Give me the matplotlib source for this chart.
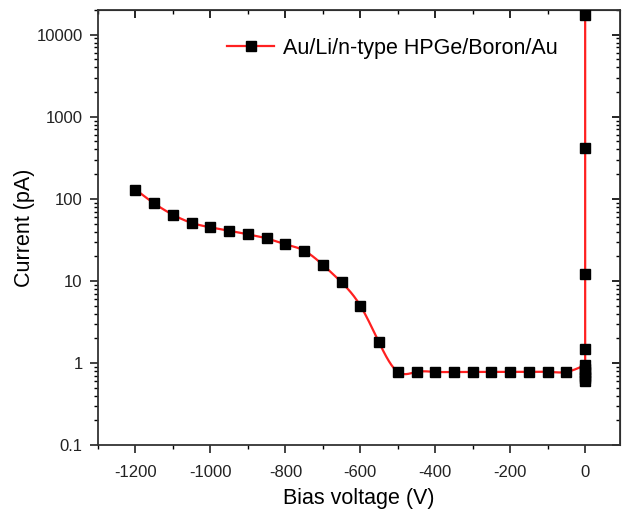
import numpy as np
import matplotlib
matplotlib.use('Agg')
import matplotlib.pyplot as plt
from matplotlib.ticker import FixedLocator, LogLocator, MultipleLocator, NullFormatter

plt.rcParams['font.family'] = ['Liberation Sans', 'DejaVu Sans']
plt.rcParams['axes.unicode_minus'] = False

# reverse-bias sweep (V) and measured current (pA)
bias_rev = [-1200, -1150, -1100, -1050, -1000, -950, -900, -850, -800, -750,
            -700, -650, -600, -550, -500, -450, -400, -350, -300, -250,
            -200, -150, -100, -50]
curr_rev = [130, 88, 64, 51, 45, 41, 37, 33, 28, 23.4,
            15.7, 9.6, 5.0, 1.78, 0.78, 0.78, 0.78, 0.78, 0.78, 0.78,
            0.78, 0.78, 0.78, 0.78]
# points recorded around 0 V
bias_zero = [0, 0, 0, 0, 0, 0, 0, 0, 0, 0]
curr_zero = [0.6, 0.65, 0.7, 0.78, 0.85, 0.95, 1.48, 12.3, 420, 17500]

yticks = [0.1, 1, 10, 100, 1000, 10000]
ytick_labels = ['0.1', '1', '10', '100', '1000', '10000']
xticks = [-1200, -1000, -800, -600, -400, -200, 0]


def natural_spline(x, y, xs):
    x = np.asarray(x, float); y = np.asarray(y, float)
    n = len(x); h = np.diff(x)
    A = np.zeros((n, n)); b = np.zeros(n)
    A[0, 0] = A[-1, -1] = 1
    for i in range(1, n - 1):
        A[i, i - 1] = h[i - 1]
        A[i, i] = 2 * (h[i - 1] + h[i])
        A[i, i + 1] = h[i]
        b[i] = 3 * ((y[i + 1] - y[i]) / h[i] - (y[i] - y[i - 1]) / h[i - 1])
    c = np.linalg.solve(A, b)
    idx = np.clip(np.searchsorted(x, xs) - 1, 0, n - 2)
    dx = xs - x[idx]
    bb = (y[idx + 1] - y[idx]) / h[idx] - h[idx] * (2 * c[idx] + c[idx + 1]) / 3
    d = (c[idx + 1] - c[idx]) / (3 * h[idx])
    return y[idx] + bb * dx + c[idx] * dx ** 2 + d * dx ** 3


# smooth connecting line in log space
sx = bias_rev + [0]
sy = np.log10(curr_rev + [curr_zero[5]])
xs = np.linspace(sx[0], sx[-1], 1500)
ys = 10 ** natural_spline(sx, sy, xs)
line_x = np.concatenate([xs, bias_zero])
line_y = np.concatenate([ys, curr_zero])

fig = plt.figure(figsize=(6.22, 5.17), dpi=100)
ax = fig.add_axes([0.1576, 0.139, 0.8392, 0.8417])

RED = '#ff2020'
ax.plot(line_x, line_y, color=RED, lw=1.6, zorder=2)
ax.plot(bias_rev + bias_zero, curr_rev + curr_zero, 's', color='black',
        markersize=7.5, zorder=3, linestyle='none')
# legend proxy
ax.plot([], [], color=RED, lw=1.6, marker='s', markersize=7.5,
        markerfacecolor='black', markeredgecolor='black',
        label='Au/Li/n-type HPGe/Boron/Au')

ax.set_yscale('log')
ax.set_xlim(-1300, 93)
ax.set_ylim(0.1, 20000)

ax.xaxis.set_major_locator(FixedLocator(xticks))
ax.xaxis.set_minor_locator(MultipleLocator(100))
ax.yaxis.set_major_locator(FixedLocator(yticks))
ax.set_yticklabels(ytick_labels)
ax.yaxis.set_minor_locator(LogLocator(base=10, subs=np.arange(2, 10), numticks=20))
ax.yaxis.set_minor_formatter(NullFormatter())

ax.tick_params(axis='both', which='major', direction='out', length=6, width=1.2,
               labelsize=12, colors='#222222')
ax.tick_params(axis='x', which='major', pad=8)
ax.tick_params(axis='y', which='major', pad=5)
ax.tick_params(axis='both', which='minor', direction='out', length=3, width=1.0)
# mirrored ticks on top / right pointing inward
secx = ax.secondary_xaxis('top')
secx.xaxis.set_major_locator(FixedLocator(xticks))
secx.xaxis.set_minor_locator(MultipleLocator(100))
secx.tick_params(which='major', direction='in', length=6, width=1.2, labeltop=False)
secx.tick_params(which='minor', direction='in', length=3, width=1.0)
secy = ax.secondary_yaxis('right')
secy.set_yscale('log')
secy.yaxis.set_major_locator(FixedLocator(yticks))
secy.yaxis.set_minor_locator(LogLocator(base=10, subs=np.arange(2, 10), numticks=20))
secy.yaxis.set_minor_formatter(NullFormatter())
secy.tick_params(which='major', direction='in', length=6, width=1.2, labelright=False)
secy.tick_params(which='minor', direction='in', length=3, width=1.0)

for s in ax.spines.values():
    s.set_linewidth(1.3)
    s.set_color('#333333')

ax.set_xlabel('Bias voltage (V)', fontsize=15.5, labelpad=6)
ax.set_ylabel('Current (pA)', fontsize=15.5, labelpad=1)

ax.legend(loc='upper left', frameon=False, fontsize=15.5, handlelength=2.2,
          handletextpad=0.4, borderpad=0, borderaxespad=0,
          bbox_to_anchor=(0.247, 0.9356))

fig.savefig('out.png', dpi=100)
